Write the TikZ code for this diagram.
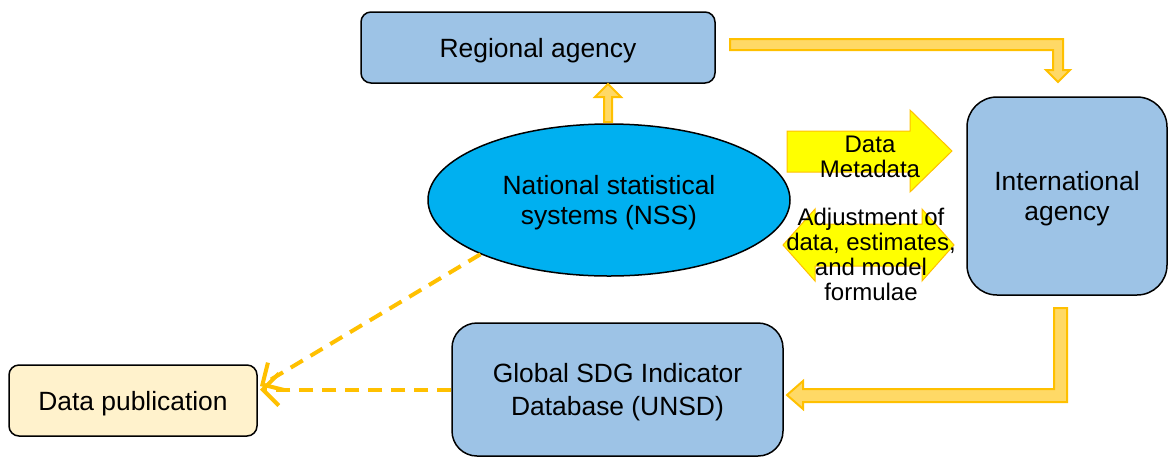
\documentclass[tikz,border=0pt]{standalone}
\usepackage{fontspec}
\setmainfont{Liberation Sans}
\usetikzlibrary{shapes.geometric,arrows.meta}
\definecolor{boxblue}{HTML}{9DC3E6}
\definecolor{nssblue}{HTML}{00B0F0}
\definecolor{pubcream}{HTML}{FFF2CC}
\definecolor{flowfill}{HTML}{FFD966}
\definecolor{flowline}{HTML}{FFC000}
\definecolor{exchfill}{HTML}{FFFF00}
\tikzset{
  bigtext/.style={font=\fontsize{13.2pt}{15pt}\selectfont, align=center, text depth=0pt},
  smalltext/.style={font=\fontsize{12pt}{12.5pt}\selectfont, align=center},
  agencybox/.style={draw=black, line width=0.75pt, fill=boxblue, inner sep=0pt, bigtext},
  flowarrow/.style={fill=flowfill, draw=flowline, line width=1pt, line join=miter},
  exchangearrow/.style={fill=exchfill, draw=flowline, line width=0.5pt, line join=miter},
  publink/.style={draw=flowline, line width=2pt, dash pattern=on 7pt off 4.5pt,
    -{Straight Barb[length=8pt,width=16pt,line width=2pt]}}
}
\begin{document}
\begin{tikzpicture}[x=0.5pt,y=-0.5pt]
\useasboundingbox (0,0) rectangle (1168,457);

% main actors
\node[agencybox, rounded corners=5pt, minimum width=177pt, minimum height=35.5pt]
  (regional) at (538,47.5) {Regional agency};
\node[agencybox, rounded corners=15pt, minimum width=100pt, minimum height=99pt]
  (intl) at (1067,196) {International\\agency};
\node[ellipse, draw=black, line width=0.75pt, fill=nssblue, inner sep=0pt,
  minimum width=181pt, minimum height=76pt, bigtext]
  (nss) at (609,200) {National statistical\\systems (NSS)};
\node[agencybox, rounded corners=12.5pt, minimum width=165.5pt, minimum height=66.5pt]
  (sdg) at (617.5,389.5) {Global SDG Indicator\\[1.5pt]Database (UNSD)};
\node[draw=black, line width=0.75pt, fill=pubcream, rounded corners=5pt, inner sep=0pt,
  minimum width=124pt, minimum height=35.5pt, bigtext]
  (pub) at (133,400.5) {Data publication};

% NSS reports up to the regional agency
\draw[flowarrow] (604,122) -- (604,97) -- (595,97) -- (608,84) -- (621,97)
  -- (612,97) -- (612,122) -- cycle;

% regional agency forwards to the international agency
\draw[flowarrow] (730,39) -- (1063,39) -- (1063,70) -- (1070,70) -- (1058,82)
  -- (1046,70) -- (1053,70) -- (1053,50) -- (730,50) -- cycle;

% international agency feeds the global database
\draw[flowarrow] (1054,308) -- (1067,308) -- (1067,402) -- (803,402) -- (803,409)
  -- (787,395) -- (803,381) -- (803,389) -- (1054,389) -- cycle;

% data and metadata sent by the NSS
\draw[exchangearrow] (787,131) -- (910,131) -- (910,110) -- (952,151)
  -- (910,192) -- (910,172) -- (787,172) -- cycle;
\node[smalltext] (datalbl) at (870,157) {Data\\Metadata};

% two-way consultation on adjustments
\draw[exchangearrow] (783,245) -- (815,209) -- (815,224) -- (922,224) -- (922,209)
  -- (954,245) -- (922,281) -- (922,266) -- (815,266) -- (815,281) -- cycle;
\node[smalltext] (adjlbl) at (871,254) {Adjustment of\\data, estimates,\\and model\\formulae};

% dissemination links
\coordinate (pubin) at (260,386);
\draw[publink] (nss.south west) -- (pubin);
\draw[publink] (sdg.west) -- (sdg.west -| pubin);
\end{tikzpicture}
\end{document}
